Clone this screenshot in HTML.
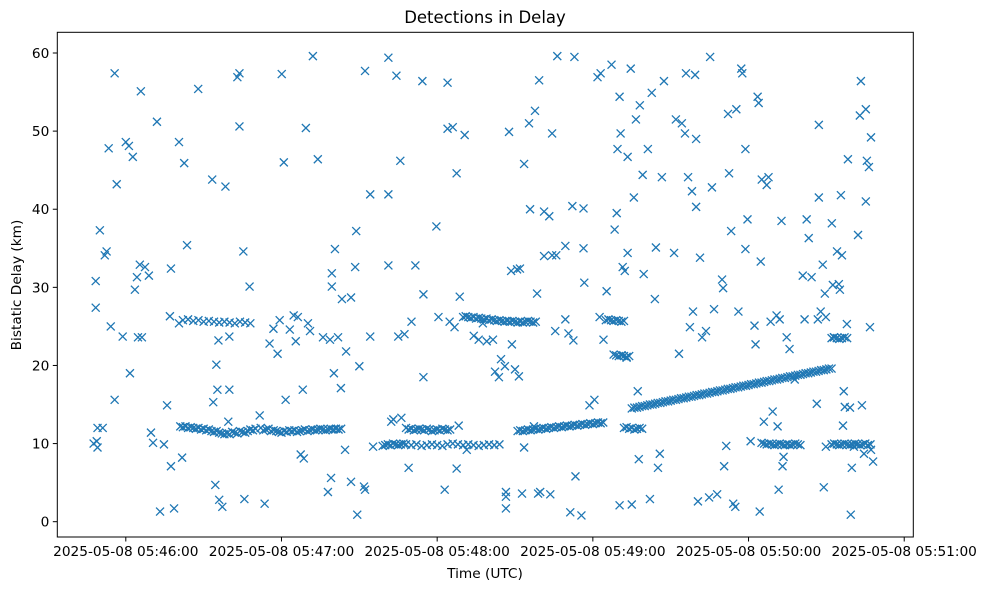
<!DOCTYPE html>
<html><head><meta charset="utf-8">
<style>
html,body{margin:0;padding:0;background:#fff;}
svg{display:block;font-family:"DejaVu Sans","Liberation Sans",sans-serif;}
</style></head>
<body>
<svg id="chart" width="989" height="590" viewBox="0 0 989 590" xmlns="http://www.w3.org/2000/svg">
<rect x="0" y="0" width="989" height="590" fill="#fff"/>
<text x="485" y="23" font-size="16.5" text-anchor="middle">Detections in Delay</text>
<text x="485" y="578" font-size="13.7" text-anchor="middle">Time (UTC)</text>
<text x="0" y="0" font-size="13.7" text-anchor="middle" transform="translate(21,285) rotate(-90)">Bistatic Delay (km)</text>
<g id="marks"></g>
<g id="axes"></g>
<rect x="57.3" y="32.3" width="856" height="504.7" fill="none" stroke="#000" stroke-width="1"/>
</svg>
<script>
// seconds after 05:46:00 UTC, delay in km
const scatterT=[-12.4,-11.2,-10.9,-11.6,-11.6,-10,-10.9,-8.9,-8.1,-7.4,-6.6,-5.8,-4.3,-3.5,-4.3,-1.2,0,1.2,1.6,2.7,3.5,4.3,4.7,5.4,5.8,6.2,7.4,8.9,9.7,10.5,12,13.2,14.7,15.9,17,17.4,17.4,18.6,20.5,20.5,21.7,22.5,23.6,27.9,
33.3,33.7,34.5,35.7,36,37.2,34.9,35.3,38.4,39.5,39.9,39.9,43,43.8,43.8,45.3,45.7,47.7,51.6,53.5,55.4,56.9,58.5,59.3,60.1,60.9,61.6,63.2,64.7,65.5,66.3,67.4,68.6,68.2,69.4,70.2,71,72.1,74,76,77.9,78.7,79.1,80.2,79.4,79.4,80.6,81.8,82.9,83.3,84.5,84.9,86.8,86.8,88.4,88.8,89.2,90,91.8,92.2,92.2,94.2,94.2,95.3,
101.2,101.2,101.2,102.3,103.1,104.3,105,105.8,106.2,107.4,109,110.1,111.6,114.3,114.7,114.7,119.7,120.5,122.9,124,124,124.8,126,126.7,127.5,127.5,128.3,128.7,130.6,131.4,134.1,136,137.6,139.1,141.5,142.3,143.8,144.6,146.1,146.5,146.5,146.5,147.7,148.5,148.8,150,150.8,151.5,151.9,153.5,153.5,152.7,155.4,155.8,157.3,157.7,158.5,159.3,158.9,159.7,161.2,161.2,163.2,163.6,164.3,164.3,165.5,165.9,166.3,169.4,169.4,170.6,171.3,172.1,172.5,172.9,173.3,175.6,176.4,176.4,176.7,178.7,180.6,181.8,182.6,183,
184.1,185.3,187.2,188.4,189.2,189.5,190.3,190.3,190.7,191.1,191.5,192.3,193,193.4,193.4,194.6,195,195.8,196.6,197.3,197.7,198.1,199.2,199.6,201.2,202,202.7,203.9,204.3,205.1,205.8,206.6,207.4,211.3,212,213.2,214.3,215.5,215.9,216.7,217.4,218.2,218.6,219.4,219.8,219.8,220.5,221.3,222.1,223.6,224.8,225.2,225.9,226.7,227.9,229.8,230.2,230.6,231.4,232.1,232.5,233.3,234.1,234.9,235.3,236.1,237.2,237.6,238.8,238.8,239.6,240.8,242.3,242.7,243.5,243.9,244.3,244.7,245.1,245.9,247,247.7,248.5,249.3,250.8,251.2,251.6,252,252.7,253.1,253.5,254.7,255.8,257.8,260.9,261.6,262.4,263.2,264.3,266.3,266.7,267.1,267.1,267.8,268.6,269,269.4,269.8,269.8,272.1,272.5,272.9,274.1,274.8,275.2,275.6,276,276.4,276.7,277.1,277.9,278.3,279.1,279.4,279.8,280.6,282.2,282.9,283.3,283.7,284.5,285.2,285.2,285.6,286.4,286.8,287.2,287.2,288];
const scatterD=[10,10.3,9.5,27.4,30.8,37.3,12,12,34.1,34.6,47.8,25,57.4,43.2,15.6,23.7,48.6,48.1,19,46.7,29.7,31.3,23.6,32.9,55.1,23.6,32.6,31.5,11.4,10.1,51.2,1.3,9.9,14.9,26.3,32.4,7.1,1.7,48.6,25.4,8.2,45.9,35.4,55.4,
43.8,15.3,4.7,23.2,2.8,1.9,20.1,16.9,42.9,12.8,16.9,23.7,56.9,57.4,50.6,34.6,2.9,30.1,13.6,2.3,22.8,24.7,21.5,25.8,57.3,46,15.6,24.6,26.4,23.1,26.2,8.6,8.1,16.9,50.4,25.4,24.4,59.6,46.4,23.6,3.8,23.3,5.6,19,30.1,31.8,34.9,23.6,17.1,28.5,9.2,21.8,28.7,5.1,32.6,37.2,0.9,19.9,4.5,4.1,57.7,41.9,23.7,9.6,
59.4,41.9,32.8,12.8,13.1,57.1,23.7,46.2,13.3,24,6.9,25.6,32.8,56.4,29.1,18.5,37.8,26.2,4.1,50.3,56.2,25.6,50.5,24.9,44.6,6.8,12.3,28.8,49.5,9.2,23.8,23.3,25.4,23.1,23.3,19.2,18.5,20.8,19.9,3.8,3.2,1.7,49.9,32.1,22.7,19.5,32.3,18.6,32.4,45.8,9.5,3.6,51,40,12.2,52.6,29.2,56.5,3.6,3.8,34,39.7,39.1,3.5,34.1,49.7,24.4,34.1,59.6,35.3,25.9,24.1,1.2,40.4,23.2,59.5,5.8,0.8,35,40.1,30.6,14.9,15.6,56.9,26.2,57.4,
23.3,29.5,58.5,37.4,39.5,47.7,2.1,54.4,49.7,21.3,32.6,32.1,21,46.7,34.4,58,2.2,41.5,51.5,16.7,8,53.3,44.4,31.7,47.7,2.9,54.9,28.5,35.1,6.9,8.7,44.1,56.4,34.4,51.5,21.5,51,49.7,57.4,44.1,24.9,42.3,26.9,57.2,49,40.3,2.6,33.8,23.6,24.4,3.1,59.5,42.8,27.2,3.5,31,29.9,7.1,9.7,52.2,44.6,37.2,2.3,1.9,52.8,26.9,58,57.4,47.7,34.9,38.7,10.3,25.1,22.7,54.4,53.6,1.3,33.3,43.8,12.8,43.1,44.1,25.6,14.1,26.4,12.2,4.1,25.9,38.5,7.1,8.3,23.6,22.1,18.2,31.5,25.9,38.7,36.3,31.3,15.1,25.9,50.8,41.5,26.9,32.9,4.4,29.2,26.2,9.6,38.2,30.3,23.6,34.6,30.4,29.7,41.8,34.1,12.3,16.7,14.7,25.3,46.4,14.6,0.9,6.9,9.6,36.7,52,56.4,14.9,8.7,41,52.8,46.2,45.4,24.9,49.2,9.2,7.7];
// dense tracks
const trackT=[21,22,23,24,25,26,27,28,29,30,31,32,33,34,35,36,37,38,39,40,41,42,43,44,45,46,47,48,49,50,
52,53,54,55,56,57,58,59,60,61,62,63,64,65,66,67,68,69,70,71,72,73,74,75,76,77,78,79,80,81,82,83,
22,24,26,28,30,32,34,36,38,40,42,44,46,48,
99,100,101,102,103,104,105,106,107,108,110,112,114,116,118,120,122,124,126,128,130,132,134,136,138,140,142,144,
108,109,110,111,112,113,114,115,116,117,118,119,120,121,122,123,124,125,
130,131,132,133,134,135,136,137,138,139,140,141,142,143,144,145,146,147,148,149,150,151,152,153,154,155,156,157,158,
151,152,153,154,155,156,157,158,159,160,161,162,163,164,165,166,167,168,169,170,171,172,173,174,175,176,177,178,179,180,181,182,183,184,
195,196,197,198,199,200,201,202,203,204,205,206,207,208,209,210,211,212,213,214,215,216,217,218,219,220,221,222,223,224,225,226,227,228,229,230,231,232,233,234,235,236,237,238,239,240,241,242,243,244,245,246,247,248,249,250,251,252,253,254,255,256,257,258,259,260,261,262,263,264,265,266,267,268,269,270,271,272,
245,246,247,248,249,250,251,252,253,254,255,256,257,258,259,260,
272,273,274,275,276,277,278,279,280,281,282,283,284,285,286,287,
272,273,274,275,276,277,278,
185,186,187,188,189,190,191,192,
188,189,190,191,192,193,194,
192,193,194,195,196,197,198,199];
const trackD=[12.2,12.1,12.2,12.0,12.1,12.0,11.9,12.0,11.8,11.9,11.7,11.8,11.6,11.5,11.6,11.4,11.3,11.2,11.3,11.2,11.5,11.4,11.3,11.6,11.5,11.4,11.6,11.8,11.7,11.9,
12.0,11.7,11.8,11.9,11.6,11.7,11.6,11.5,11.4,11.6,11.5,11.7,11.6,11.7,11.5,11.6,11.7,11.8,11.6,11.7,11.8,11.7,11.8,11.9,11.8,11.7,11.8,11.9,11.8,11.9,11.8,11.9,
25.8,25.9,25.7,25.8,25.6,25.7,25.6,25.5,25.6,25.5,25.4,25.6,25.5,25.4,
9.7,9.8,9.9,9.8,10.0,9.9,9.8,9.9,10.0,9.9,9.8,9.9,9.7,9.8,9.9,9.8,9.7,9.9,10.0,9.9,9.8,9.9,9.8,9.7,9.8,9.9,9.8,9.9,
12.0,11.8,11.9,11.7,11.8,11.9,11.8,11.7,11.9,11.8,11.6,11.7,11.8,11.7,11.9,11.8,11.7,11.8,
26.2,26.3,26.2,26.1,26.2,26.0,26.1,26.0,25.9,26.0,25.8,25.9,25.8,25.7,25.8,25.7,25.6,25.7,25.6,25.7,25.6,25.5,25.6,25.5,25.6,25.7,25.6,25.5,25.6,
11.6,11.7,11.6,11.7,11.8,11.7,11.8,11.9,11.8,11.9,12.0,11.9,12.0,12.1,12.0,12.1,12.2,12.1,12.2,12.3,12.2,12.3,12.4,12.3,12.4,12.5,12.4,12.5,12.6,12.5,12.6,12.7,12.6,12.7,
14.5,14.6,14.6,14.7,14.8,14.8,14.9,15.0,15.0,15.1,15.2,15.2,15.3,15.4,15.4,15.5,15.6,15.6,15.7,15.8,15.8,15.9,16.0,16.0,16.1,16.2,16.2,16.3,16.4,16.4,16.5,16.6,16.6,16.7,16.8,16.8,16.9,17.0,17.0,17.1,17.2,17.2,17.3,17.4,17.4,17.5,17.6,17.6,17.7,17.8,17.8,17.9,18.0,18.0,18.1,18.2,18.2,18.3,18.4,18.4,18.5,18.6,18.6,18.7,18.8,18.8,18.9,19.0,19.0,19.1,19.2,19.2,19.3,19.4,19.4,19.5,19.6,19.6,
10.1,10.0,9.9,10.0,9.9,9.8,9.9,10.0,9.9,9.8,9.9,9.8,9.9,10.0,9.9,9.8,
9.9,10.0,9.9,9.8,9.9,10.0,9.9,9.8,9.9,10.0,9.9,9.8,9.9,10.0,9.8,9.9,
23.5,23.6,23.5,23.4,23.5,23.6,23.5,
25.8,25.9,25.8,25.7,25.8,25.7,25.6,25.7,
21.4,21.3,21.2,21.3,21.2,21.1,21.2,
12.0,12.1,11.9,12.0,11.8,11.9,12.0,11.9];
const xTickVals=[0,60,120,180,240,300];
const xTickLabels=["2025-05-08 05:46:00","2025-05-08 05:47:00","2025-05-08 05:48:00","2025-05-08 05:49:00","2025-05-08 05:50:00","2025-05-08 05:51:00"];
const yTickVals=[0,10,20,30,40,50,60];
const yTickLabels=["0","10","20","30","40","50","60"];

const NS="http://www.w3.org/2000/svg";
const X0=57.3,X1=913.3,Y0=537,Y1=32.3;
const tMin=-26.4,tMax=303.5,dMin=-1.96,dMax=62.65;
function xs(t){return X0+(t-tMin)/(tMax-tMin)*(X1-X0);}
function ys(d){return Y0-(d-dMin)/(dMax-dMin)*(Y0-Y1);}
const marks=document.getElementById('marks');
function drawX(t,d){
  const cx=xs(t),cy=ys(d),r=4;
  const p=document.createElementNS(NS,'path');
  p.setAttribute('d',`M${cx-r},${cy-r}L${cx+r},${cy+r}M${cx-r},${cy+r}L${cx+r},${cy-r}`);
  p.setAttribute('stroke','#1f77b4');p.setAttribute('stroke-width','1.3');p.setAttribute('fill','none');
  
  
  marks.appendChild(p);
}
for(let i=0;i<scatterT.length;i++)drawX(scatterT[i],scatterD[i]);
for(let i=0;i<trackT.length;i++)drawX(trackT[i],trackD[i]);

const axes=document.getElementById('axes');
xTickVals.forEach((v,i)=>{
  const x=xs(v);
  const l=document.createElementNS(NS,'line');
  l.setAttribute('x1',x);l.setAttribute('x2',x);l.setAttribute('y1',Y0);l.setAttribute('y2',Y0+4.5);l.setAttribute('stroke','#000');
  
  
  axes.appendChild(l);
  const t=document.createElementNS(NS,'text');
  t.setAttribute('x',x);t.setAttribute('y',Y0+19);t.setAttribute('font-size','13.7');t.setAttribute('text-anchor','middle');
  t.textContent=xTickLabels[i];
  
  
  axes.appendChild(t);
});
yTickVals.forEach((v,i)=>{
  const y=ys(v);
  const l=document.createElementNS(NS,'line');
  l.setAttribute('x1',X0-4.5);l.setAttribute('x2',X0);l.setAttribute('y1',y);l.setAttribute('y2',y);l.setAttribute('stroke','#000');
  
  
  axes.appendChild(l);
  const t=document.createElementNS(NS,'text');
  t.setAttribute('x',X0-8);t.setAttribute('y',y+5);t.setAttribute('font-size','13.7');t.setAttribute('text-anchor','end');
  t.textContent=yTickLabels[i];
  
  
  axes.appendChild(t);
});
</script>
</body></html>
